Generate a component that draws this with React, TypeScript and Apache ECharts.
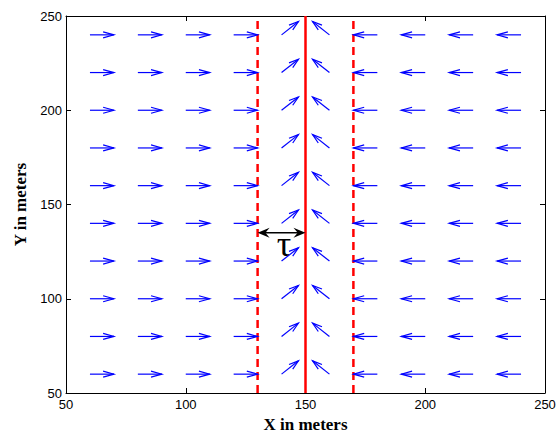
import React, { useEffect, useRef } from "react";
import * as echarts from "echarts";

const xPositions = [60, 80, 100, 120, 140, 160, 180, 200, 220, 240];
const yPositions = [60, 80, 100, 120, 140, 160, 180, 200, 220, 240];
// vector (u, v) per column, in meters
const uByColumn = [10, 10, 10, 10, 7.07, -7.07, -10, -10, -10, -10];
const vByColumn = [0, 0, 0, 0, 7.07, 7.07, 0, 0, 0, 0];
const centerLineX = 150;
const boundaryLinesX = [130, 170];
const tauArrow = { x0: 130, x1: 150, y: 135 };
const tauLabelPos = [141, 129];
const xTicks = { min: 50, max: 250, interval: 50 };
const yTicks = { min: 50, max: 250, interval: 50 };

export default function App() {
  const ref = useRef<HTMLDivElement>(null);
  useEffect(() => {
    if (!ref.current) return;
    const chart = echarts.init(ref.current, null, { renderer: "svg" });
    const quiverData: number[][] = [];
    xPositions.forEach((x, i) => {
      yPositions.forEach((y) => {
        quiverData.push([x, y, uByColumn[i], vByColumn[i]]);
      });
    });

    const axisCommon = {
      type: "value",
      axisLine: { show: true, lineStyle: { color: "#000", width: 1 } },
      axisTick: { show: true, inside: true, length: 5, lineStyle: { color: "#000" } },
      splitLine: { show: false },
    };

    chart.setOption({
      animation: false,
      backgroundColor: "#fff",
      grid: { left: 66, right: 11, top: 16, bottom: 40, containLabel: false, outerBoundsMode: "none" },
      xAxis: [
        {
          ...axisCommon,
          ...xTicks,
          position: "bottom",
          name: "X in meters",
          nameLocation: "middle",
          nameGap: 20,
          nameTextStyle: { fontFamily: "Liberation Serif", fontWeight: "bold", fontSize: 17, color: "#000" },
          axisLabel: { fontFamily: "Liberation Sans", fontSize: 13, color: "#000", margin: 5 },
        },
        {
          ...axisCommon,
          ...xTicks,
          position: "top",
          axisLabel: { show: false },
        },
      ],
      yAxis: [
        {
          ...axisCommon,
          ...yTicks,
          position: "left",
          name: "Y in meters",
          nameLocation: "middle",
          nameGap: 36,
          nameTextStyle: { fontFamily: "Liberation Serif", fontWeight: "bold", fontSize: 17, color: "#000" },
          axisLabel: { fontFamily: "Liberation Sans", fontSize: 13, color: "#000", margin: 4 },
        },
        {
          ...axisCommon,
          ...yTicks,
          position: "right",
          axisLabel: { show: false },
        },
      ],
      series: [
        {
          type: "line",
          data: [[centerLineX, yTicks.min], [centerLineX, yTicks.max]],
          symbol: "none",
          lineStyle: { color: "#ff0000", width: 2.5 },
          z: 3,
        },
        ...boundaryLinesX.map((bx) => ({
          type: "line",
          data: [[bx, yTicks.min], [bx, yTicks.max]],
          symbol: "none",
          lineStyle: { color: "#ff0000", width: 2.5, type: [8, 5] },
          z: 3,
        })),
        {
          type: "custom",
          z: 4,
          data: quiverData,
          renderItem: (params: any, api: any) => {
            const x = api.value(0), y = api.value(1), u = api.value(2), v = api.value(3);
            const p0 = api.coord([x, y]);
            const p1 = api.coord([x + u, y + v]);
            const dx = p1[0] - p0[0], dy = p1[1] - p0[1];
            const L = Math.sqrt(dx * dx + dy * dy) || 1;
            const ux = dx / L, uy = dy / L;
            const hl = 0.45 * L, hw = 3;
            const bx = p1[0] - ux * hl, by = p1[1] - uy * hl;
            const h1 = [bx - uy * hw, by + ux * hw];
            const h2 = [bx + uy * hw, by - ux * hw];
            return {
              type: "group",
              children: [
                { type: "polyline", shape: { points: [p0, p1] }, style: { stroke: "#0000ff", lineWidth: 1.2, fill: null } },
                { type: "polyline", shape: { points: [h1, p1, h2] }, style: { stroke: "#0000ff", lineWidth: 1.2, fill: null } },
              ],
            };
          },
        },
        {
          type: "custom",
          z: 5,
          data: [[tauArrow.x0, tauArrow.y, tauArrow.x1, tauLabelPos[0], tauLabelPos[1]]],
          renderItem: (params: any, api: any) => {
            const a = api.coord([api.value(0), api.value(1)]);
            const b = api.coord([api.value(2), api.value(1)]);
            const t = api.coord([api.value(3), api.value(4)]);
            const hl = 12, hw = 5;
            return {
              type: "group",
              children: [
                { type: "line", shape: { x1: a[0] + 3, y1: a[1], x2: b[0] - 3, y2: b[1] }, style: { stroke: "#000", lineWidth: 1.5 } },
                { type: "polygon", shape: { points: [[a[0], a[1]], [a[0] + hl, a[1] - hw], [a[0] + hl * 0.65, a[1]], [a[0] + hl, a[1] + hw]] }, style: { fill: "#000" } },
                { type: "polygon", shape: { points: [[b[0], b[1]], [b[0] - hl, b[1] - hw], [b[0] - hl * 0.65, b[1]], [b[0] - hl, b[1] + hw]] }, style: { fill: "#000" } },
                {
                  type: "text",
                  x: t[0],
                  y: t[1],
                  style: { text: "τ", font: "36px 'Liberation Serif'", fill: "#000", align: "center", verticalAlign: "middle" },
                },
              ],
            };
          },
        },
      ],
    });
    return () => chart.dispose();
  }, []);
  return <div ref={ref} style={{ position: "fixed", left: 0, top: 0, width: 556, height: 433 }} />;
}
